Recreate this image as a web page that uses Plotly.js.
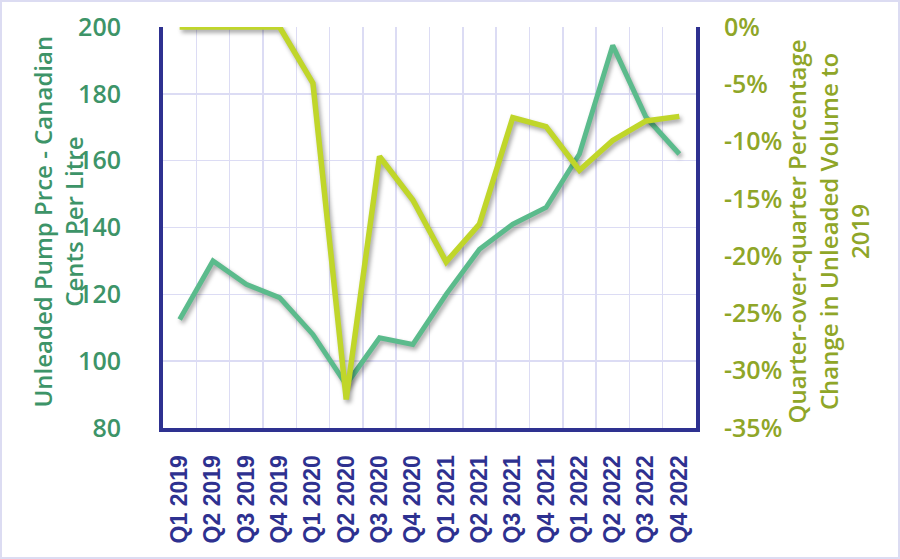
<!DOCTYPE html>
<html>
<head>
<meta charset="utf-8">
<script src="https://cdn.plot.ly/plotly-3.0.1.min.js"></script>
<style>
  html, body { margin: 0; padding: 0; background: #fff; }
  #wrap { position: relative; width: 900px; height: 559px; }
  #chart { position: absolute; left: 0; top: 0; width: 900px; height: 559px; }
  #frame { position: absolute; left: 0; top: 0; width: 900px; height: 559px; box-sizing: border-box;
           border: 2px solid #dcdcf2; pointer-events: none; }
  .scatterlayer .js-line { filter: drop-shadow(2px 3px 2px rgba(0,0,0,0.35)); }
</style>
</head>
<body>
<div id="wrap"><div id="chart"></div><div id="frame"></div></div>
<script>
const quarters = ['Q1 2019','Q2 2019','Q3 2019','Q4 2019','Q1 2020','Q2 2020','Q3 2020','Q4 2020',
                  'Q1 2021','Q2 2021','Q3 2021','Q4 2021','Q1 2022','Q2 2022','Q3 2022','Q4 2022'];
const pumpPrice = [112.5, 130, 123, 119, 108, 93, 107, 105, 120, 133.5, 141, 146, 162, 194.5, 173, 162];
const volumeChange = [0, 0, 0, 0, -4.9, -32.5, -11.3, -15.1, -20.5, -17.2, -7.9, -8.7, -12.5, -9.9, -8.2, -7.8];
const volumeTickVals = [0, -5, -10, -15, -20, -25, -30, -35];
const volumeTickText = ['0%', '-5%', '-10%', '-15%', '-20%', '-25%', '-30%', '-35%'];

const leftTitle = 'Unleaded Pump Prce - Canadian<br>Cents Per Litre';
const rightTitle = 'Quarter-over-quarter Percentage<br>Change in Unleaded Volume to<br>2019';

const navy = '#2e3190';
const grid = '#dcdcf4';
const greenText = '#3d9468';
const oliveText = '#8fa628';

const traces = [
  { x: quarters, y: pumpPrice, type: 'scatter', mode: 'lines', name: 'Unleaded Pump Price',
    line: { color: '#5bbb8c', width: 5 }, yaxis: 'y', hoverinfo: 'x+y' },
  { x: quarters, y: volumeChange, type: 'scatter', mode: 'lines', name: 'Volume change',
    line: { color: '#c0d62a', width: 5.5 }, yaxis: 'y2', hoverinfo: 'x+y' }
];

const titleFont = { family: 'Open Sans, sans-serif', size: 24, weight: 600 };

const layout = {
  width: 900, height: 559,
  margin: { l: 163, r: 204, t: 27, b: 131, pad: 0 },
  paper_bgcolor: '#ffffff', plot_bgcolor: '#ffffff',
  showlegend: false,
  xaxis: {
    type: 'category', tickson: 'boundaries', ticks: '',
    range: [-0.5, quarters.length - 0.5], autorange: false,
    showgrid: true, gridcolor: grid, gridwidth: 1.5,
    showline: true, linecolor: navy, linewidth: 4, mirror: false,
    tickangle: -90, ticklabelstandoff: 14,
    tickfont: { family: 'Liberation Sans, Arial, sans-serif', size: 23, color: navy, weight: 'bold' },
    zeroline: false, fixedrange: true
  },
  yaxis: {
    range: [80, 200], dtick: 20, tick0: 80, ticks: '',
    showgrid: true, gridcolor: grid, gridwidth: 1.5,
    showline: true, linecolor: navy, linewidth: 4, zeroline: false,
    ticklabelstandoff: 33,
    tickfont: { family: 'Open Sans, sans-serif', size: 25, color: greenText, weight: 600 },
    fixedrange: true
  },
  yaxis2: {
    overlaying: 'y', side: 'right', anchor: 'x',
    range: [-35, 0], tickmode: 'array', tickvals: volumeTickVals, ticktext: volumeTickText, ticks: '',
    showgrid: false, showline: true, linecolor: navy, linewidth: 4, zeroline: false,
    ticklabelstandoff: 19,
    tickfont: { family: 'Open Sans, sans-serif', size: 25, color: oliveText, weight: 600 },
    fixedrange: true
  },
  annotations: [
    { text: leftTitle, xref: 'paper', yref: 'paper', x: 0, y: 0.515, xshift: -105,
      xanchor: 'center', yanchor: 'middle', textangle: -90, showarrow: false,
      font: Object.assign({ color: greenText }, titleFont) },
    { text: rightTitle, xref: 'paper', yref: 'paper', x: 1, y: 0.49, xshift: 132,
      xanchor: 'center', yanchor: 'middle', textangle: -90, showarrow: false,
      font: Object.assign({ color: oliveText }, titleFont) }
  ]
};

Plotly.newPlot('chart', traces, layout, { displayModeBar: false, staticPlot: true });
</script>
</body>
</html>
